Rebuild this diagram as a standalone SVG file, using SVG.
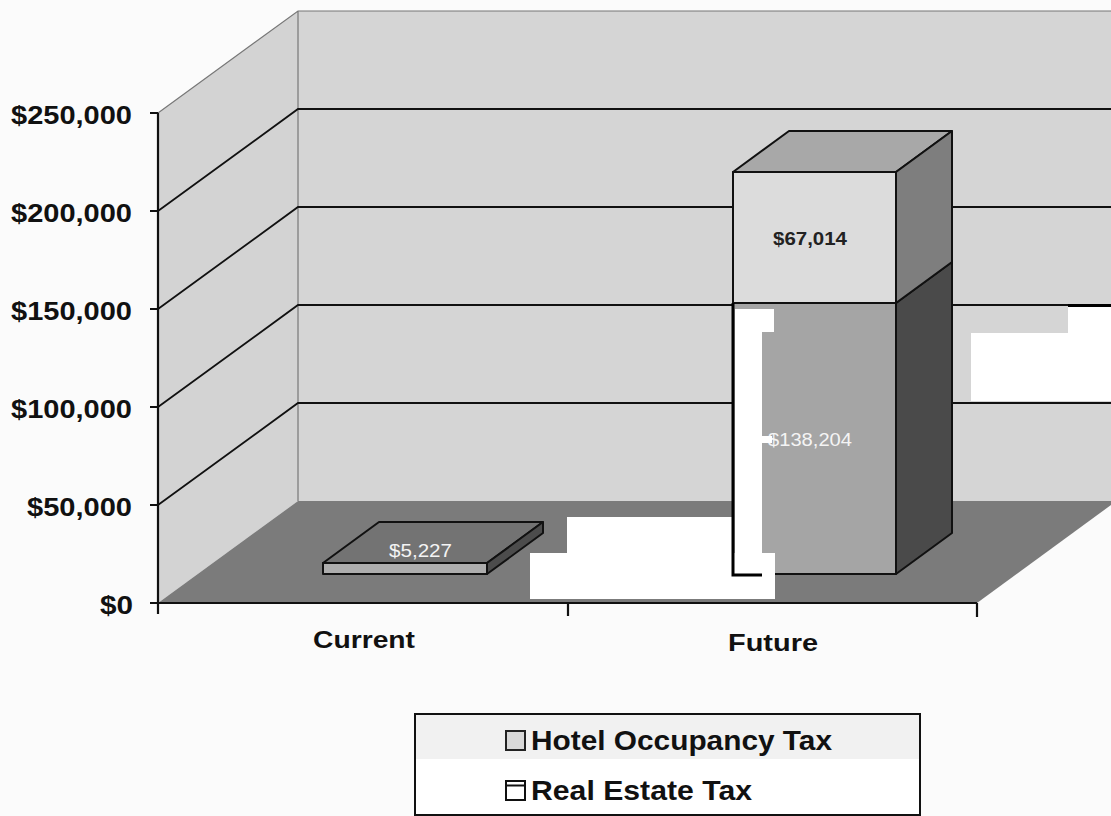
<svg xmlns="http://www.w3.org/2000/svg" width="1111" height="816" viewBox="0 0 1111 816">
<style>
.lbl{font-family:"Liberation Sans",Arial,sans-serif;font-weight:bold;fill:#111}
.ax{font-size:25px}
.cat{font-size:23px}
.grid{stroke:#111;stroke-width:1.8;fill:none}
.edge{stroke:#777;stroke-width:1.2;fill:none}
.bar{stroke:#111;stroke-width:2;stroke-linejoin:round}
.val{font-family:"Liberation Sans",Arial,sans-serif;font-size:18px}
.patch{fill:#ffffff}
</style>
<rect width="1111" height="816" fill="#fbfbfb"/>
<g id="walls">
<polygon points="158,113 298,11 298,501 158,603" fill="#d3d3d3"/>
<rect x="298" y="11" width="813" height="490" fill="#d5d5d5"/>
<polygon points="158,603 298,501 1111,501 1111,505 977,603" fill="#7b7b7b"/>
<path class="edge" d="M158,113 L298,11 H1111 M298,11 V501"/>
</g>
<g id="gridlines">
<path class="grid" d="M158,211 L298,109 H1111 M158,309 L298,207 H1111 M158,407 L298,305 H1111 M158,505 L298,403 H1111"/>
</g>
<g id="axis">
<path d="M158,113 V614 M150,113 H158 M150,211 H158 M150,309 H158 M150,407 H158 M150,505 H158 M150,603 H977 M568,603 V616 M977,603 V617" stroke="#111" stroke-width="2.2" fill="none"/>
<text class="lbl ax" x="11" y="124" textLength="121" lengthAdjust="spacingAndGlyphs">$250,000</text>
<text class="lbl ax" x="11" y="222" textLength="121" lengthAdjust="spacingAndGlyphs">$200,000</text>
<text class="lbl ax" x="11" y="320" textLength="121" lengthAdjust="spacingAndGlyphs">$150,000</text>
<text class="lbl ax" x="11" y="418" textLength="121" lengthAdjust="spacingAndGlyphs">$100,000</text>
<text class="lbl ax" x="27" y="516" textLength="105" lengthAdjust="spacingAndGlyphs">$50,000</text>
<text class="lbl ax" x="100" y="614" textLength="33" lengthAdjust="spacingAndGlyphs">$0</text>
<text class="lbl cat" x="313" y="648" textLength="102" lengthAdjust="spacingAndGlyphs">Current</text>
<text class="lbl cat" x="728" y="651" textLength="90" lengthAdjust="spacingAndGlyphs">Future</text>
</g>
<g id="bar-current">
<polygon class="bar" points="323,563 487,563 543,522 379,522" fill="#737373"/>
<rect class="bar" x="323" y="563" width="164" height="11" fill="#adadad"/>
<polygon class="bar" points="487,563 543,522 543,533 487,574" fill="#4c4c4c"/>
<text class="val" x="389" y="557" fill="#f4f4f4" textLength="63" lengthAdjust="spacingAndGlyphs">$5,227</text>
</g>
<g id="bar-future">
<rect class="bar" x="733" y="303" width="163" height="271" fill="#a5a5a5"/>
<polygon class="bar" points="896,303 952,262 952,533 896,574" fill="#4a4a4a"/>
<rect class="bar" x="733" y="172" width="163" height="131" fill="#dcdcdc"/>
<polygon class="bar" points="733,172 896,172 952,131 789,131" fill="#a8a8a8"/>
<polygon class="bar" points="896,172 952,131 952,262 896,303" fill="#7e7e7e"/>
<text class="val" x="773" y="245" fill="#222" font-weight="bold" textLength="74" lengthAdjust="spacingAndGlyphs">$67,014</text>
<text class="val" x="768" y="446" fill="#f4f4f4" textLength="84" lengthAdjust="spacingAndGlyphs">$138,204</text>
</g>
<g id="scan-patches">
<rect class="patch" x="530" y="553" width="245" height="46"/>
<rect class="patch" x="567" y="517" width="165" height="37"/>
<rect class="patch" x="735" y="309" width="27" height="265"/>
<rect class="patch" x="735" y="309" width="39" height="23"/>
<rect class="patch" x="762" y="436" width="10" height="7"/>
<rect class="patch" x="971" y="333" width="140" height="68"/>
<rect class="patch" x="1068" y="307" width="43" height="27"/>
<path d="M733,303 V575 H762 M1068,305.5 H1111" stroke="#000" stroke-width="3" fill="none"/>
</g>
<g id="legend">
<rect x="415" y="714" width="505" height="101" fill="#ffffff" stroke="#111" stroke-width="2"/>
<rect x="416" y="715" width="503" height="44" fill="#f1f1f1"/>
<rect x="506" y="731" width="19" height="19" fill="#d8d8d8" stroke="#222" stroke-width="2"/>
<text class="lbl" x="531" y="750" font-size="28" textLength="301" lengthAdjust="spacingAndGlyphs">Hotel Occupancy Tax</text>
<rect x="506" y="781" width="19" height="19" fill="#ffffff" stroke="#111" stroke-width="2"/>
<path d="M506,785.5 H525" stroke="#111" stroke-width="2"/>
<text class="lbl" x="531" y="800" font-size="28" textLength="221" lengthAdjust="spacingAndGlyphs">Real Estate Tax</text>
</g>
</svg>
